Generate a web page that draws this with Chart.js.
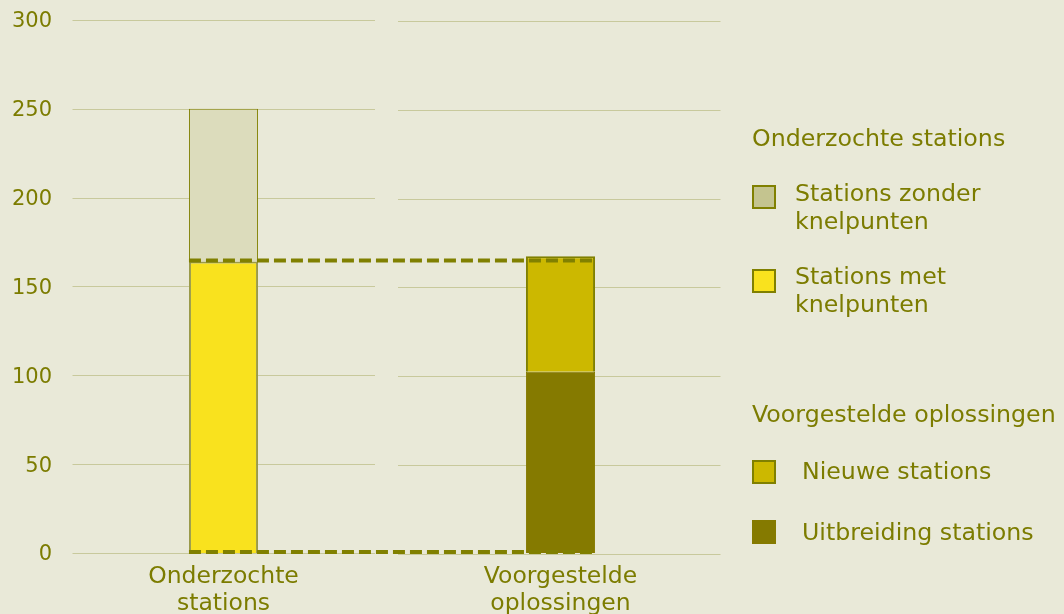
<!DOCTYPE html>
<html lang="nl">
<head>
    <meta charset="UTF-8">
    <title>Stations</title>
    <script src="https://cdn.jsdelivr.net/npm/chart.js@4/dist/chart.umd.min.js"></script>
    <style>
        html, body { margin: 0; padding: 0; background: #e9e9d8; }
        body { width: 1064px; height: 614px; position: relative; overflow: hidden;
               font-family: "DejaVu Sans", Verdana, sans-serif; color: #7c7c00; }
        #chartBox { position: absolute; left: 0; top: 0; width: 1064px; height: 627px; }
        .legend { position: absolute; left: 752px; top: 0; font-size: 23.7px; line-height: 28px; }
        .legend .title { position: absolute; white-space: nowrap; }
        .legend .item { position: absolute; white-space: nowrap; }
        .legend .sw { position: absolute; left: 0; width: 20px; height: 20px; border: 2px solid #808000; }
        .legend .txt { position: absolute; }
    </style>
</head>
<body>

    <div id="chartBox"><canvas id="myChart" width="1064" height="627"></canvas></div>

    <div class="legend">
        <div class="title" style="top:124px">Onderzochte stations</div>
        <div class="item" style="top:185px">
            <div class="sw" style="background:#c4c48f"></div>
            <div class="txt" style="left:43px; top:-6px">Stations zonder<br>knelpunten</div>
        </div>
        <div class="item" style="top:269px">
            <div class="sw" style="background:#f9e21e"></div>
            <div class="txt" style="left:43px; top:-7px">Stations met<br>knelpunten</div>
        </div>
        <div class="title" style="top:400px">Voorgestelde oplossingen</div>
        <div class="item" style="top:460px">
            <div class="sw" style="background:#ccb800"></div>
            <div class="txt" style="left:50px; top:-3px">Nieuwe stations</div>
        </div>
        <div class="item" style="top:520px">
            <div class="sw" style="background:#857a00; border-color:#857a00"></div>
            <div class="txt" style="left:50px; top:-2px">Uitbreiding stations</div>
        </div>
    </div>

    <script>
        // data
        var categories = [['Onderzochte', 'stations'], ['Voorgestelde', 'oplossingen']];
        var metKnelpunten = [164, null];
        var zonderKnelpunten = [86, null];
        var uitbreiding = [null, 102];
        var nieuwe = [null, 65];
        var yTicks = [0, 50, 100, 150, 200, 250, 300];

        var olive = '#7c7c00';

        // gridlines are drawn per category, broken between the two bars
        var splitGrid = {
            id: 'splitGrid',
            beforeDatasetsDraw: function (chart) {
                var ctx = chart.ctx;
                var x = chart.scales.x;
                var y = chart.scales.y;
                var c0 = x.getPixelForValue(0);
                var c1 = x.getPixelForValue(1);
                var mid = (c0 + c1) / 2;
                ctx.save();
                ctx.strokeStyle = '#c8c99c';
                ctx.lineWidth = 1;
                yTicks.forEach(function (v) {
                    var py = Math.round(y.getPixelForValue(v)) + 0.5;
                    ctx.beginPath();
                    ctx.moveTo(c0 - 151, py);
                    ctx.lineTo(mid - 17, py);
                    ctx.moveTo(mid + 6, py + 1);
                    ctx.lineTo(c1 + 160, py + 1);
                    ctx.stroke();
                });
                ctx.restore();
            }
        };

        // dashed connectors between the two bars
        var connectors = {
            id: 'connectors',
            afterDatasetsDraw: function (chart) {
                var ctx = chart.ctx;
                var y = chart.scales.y;
                var b0 = chart.getDatasetMeta(0).data[0];
                var b1 = chart.getDatasetMeta(2).data[1];
                var left = b0.x - b0.width / 2;
                var right = b1.x + b1.width / 2;
                var levels = [metKnelpunten[0], 0];
                ctx.save();
                ctx.strokeStyle = '#808000';
                ctx.lineWidth = 4;
                ctx.setLineDash([12, 5]);
                levels.forEach(function (v) {
                    var py = y.getPixelForValue(v) - 1;
                    ctx.beginPath();
                    ctx.moveTo(left, py);
                    ctx.lineTo(right, py);
                    ctx.stroke();
                });
                ctx.restore();
            }
        };

        var ctx = document.getElementById('myChart').getContext('2d');
        var myChart = new Chart(ctx, {
            type: 'bar',
            data: {
                labels: categories,
                datasets: [
                    { label: 'Stations met knelpunten', data: metKnelpunten,
                      backgroundColor: '#f9e21e', borderColor: '#9a9a4a', borderWidth: 2 },
                    { label: 'Stations zonder knelpunten', data: zonderKnelpunten,
                      backgroundColor: '#dcdcbc', borderColor: '#808000', borderWidth: 1 },
                    { label: 'Uitbreiding stations', data: uitbreiding,
                      backgroundColor: '#857a00', borderColor: '#857a00', borderWidth: 1 },
                    { label: 'Nieuwe stations', data: nieuwe,
                      backgroundColor: '#ccb800', borderColor: '#808000', borderWidth: 2 }
                ]
            },
            options: {
                responsive: false,
                animation: false,
                layout: { padding: { left: 12, right: 335, top: 20, bottom: 0 } },
                datasets: { bar: { categoryPercentage: 1, barPercentage: 0.205 } },
                plugins: { legend: { display: false }, tooltip: { enabled: false } },
                scales: {
                    x: {
                        stacked: true,
                        grid: { display: false, drawTicks: false, tickLength: 0 },
                        border: { display: false },
                        ticks: { color: olive, font: { family: 'DejaVu Sans', size: 23.5, lineHeight: 1.15 }, padding: 10, maxRotation: 0 }
                    },
                    y: {
                        stacked: true,
                        min: 0, max: 300,
                        grid: { display: false, drawTicks: false, tickLength: 0 },
                        border: { display: false },
                        afterFit: function (scale) { scale.width = 43; },
                        ticks: { stepSize: 50, color: olive, font: { family: 'DejaVu Sans', size: 21 }, padding: 3, labelOffset: 2 }
                    }
                }
            },
            plugins: [splitGrid, connectors]
        });
    </script>

</body>
</html>
